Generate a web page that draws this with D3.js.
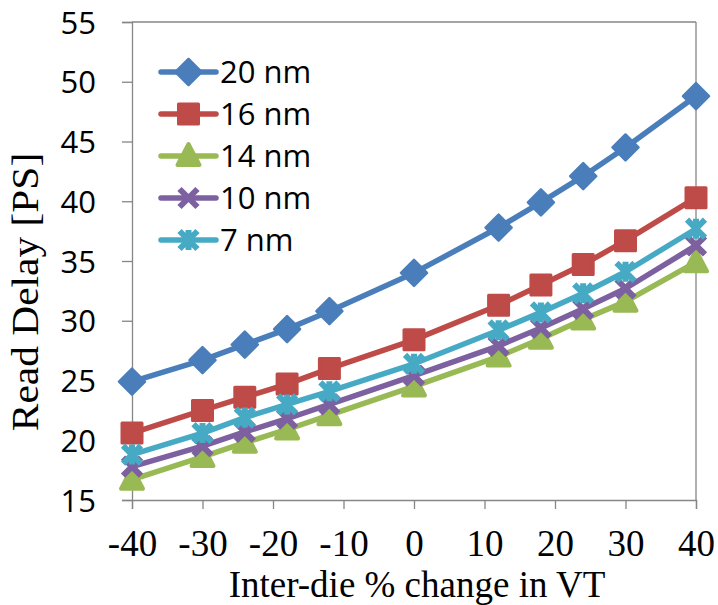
<!DOCTYPE html>
<html><head><meta charset="utf-8">
<script src="https://cdn.jsdelivr.net/npm/d3@7"></script>
<style>body{margin:0;background:#fff}svg{display:block}</style>
</head><body>
<svg id="c" width="718" height="605"></svg>
<script>
const xValues = [-40, -30, -24, -18, -12, 0, 12, 18, 24, 30, 40];
const seriesNames = ["20 nm", "16 nm", "14 nm", "10 nm", "7 nm"];
const s20 = [24.9, 26.7, 28.0, 29.3, 30.8, 34.0, 37.8, 39.9, 42.1, 44.5, 48.8];
const s16 = [20.6, 22.5, 23.6, 24.7, 26.0, 28.4, 31.3, 33.0, 34.7, 36.7, 40.3];
const s14 = [16.7, 18.6, 19.8, 20.9, 22.1, 24.5, 27.0, 28.5, 30.1, 31.6, 34.9];
const s10 = [17.8, 19.5, 20.7, 21.8, 23.0, 25.4, 27.9, 29.4, 31.0, 32.7, 36.3];
const s7  = [18.8, 20.6, 21.9, 23.0, 24.1, 26.4, 29.2, 30.7, 32.3, 34.1, 37.7];
const xTicks = [-40, -30, -20, -10, 0, 10, 20, 30, 40];
const yTicks = [15, 20, 25, 30, 35, 40, 45, 50, 55];
const colors = ["#4a7ebb", "#be4b48", "#98b954", "#7d60a0", "#46aac5"];
const shapes = ["diamond", "square", "triangle", "x", "star"];
const allSeries = [s20, s16, s14, s10, s7];

const svg = d3.select("#c");
const L = 132, R = 696, T = 22, B = 500;
const x = d3.scaleLinear().domain([-40, 40]).range([L, R]);
const y = d3.scaleLinear().domain([15, 55]).range([B, T]);
const axisColor = "#868686";
const serif = "'Liberation Serif', 'Times New Roman', serif";
const sans = "'Open Sans', sans-serif";

svg.append("line").attr("x1", L).attr("x2", R).attr("y1", T).attr("y2", T).attr("stroke", axisColor).attr("stroke-width", 1.3);
svg.append("line").attr("x1", R).attr("x2", R).attr("y1", T).attr("y2", B).attr("stroke", axisColor).attr("stroke-width", 1.3);

const yAxis = svg.append("g").attr("transform", `translate(${L},0)`)
  .call(d3.axisLeft(y).tickValues(yTicks).tickSize(10).tickPadding(26).tickFormat(d => String(d)));
const xAxis = svg.append("g").attr("transform", `translate(0,${B})`)
  .call(d3.axisBottom(x).tickValues(xTicks).tickSize(9).tickPadding(14).tickFormat(d => String(d)));
[yAxis, xAxis].forEach(g => {
  g.select(".domain").attr("stroke", axisColor).attr("stroke-width", 1.3);
  g.selectAll(".tick line").attr("stroke", axisColor).attr("stroke-width", 1.3);
});
yAxis.selectAll("text").attr("fill", "#000").style("font-family", sans).style("font-size", "31px").attr("dy", "0.36em");
xAxis.selectAll(".tick text")
  .attr("fill", "#000").style("font-family", serif).style("font-size", "37px")
  .attr("y", 56).attr("dy", 0);

svg.append("text").attr("text-anchor", "middle")
  .attr("x", (L + R) / 2 + 3).attr("y", 597)
  .style("font-family", serif).style("font-size", "37px").text("Inter-die % change in VT");
svg.append("text").attr("transform", "translate(38,292) scale(1,1.12) rotate(-90)").attr("text-anchor", "middle")
  .style("font-family", serif).style("font-size", "37px").text("Read Delay [PS]");

function drawMarker(g, shape, color, cx, cy) {
  if (shape === "diamond") {
    g.append("path").attr("d", `M${cx},${cy-13}L${cx+13},${cy}L${cx},${cy+13}L${cx-13},${cy}Z`)
      .attr("fill", color).attr("stroke", color).attr("stroke-width", 2.5).attr("stroke-linejoin", "round");
  } else if (shape === "square") {
    g.append("rect").attr("x", cx - 10).attr("y", cy - 10).attr("width", 20).attr("height", 20)
      .attr("fill", color).attr("stroke", color).attr("stroke-width", 3).attr("stroke-linejoin", "round");
  } else if (shape === "triangle") {
    g.append("path").attr("d", `M${cx},${cy-12}L${cx+11},${cy+9}L${cx-11},${cy+9}Z`)
      .attr("fill", color).attr("stroke", color).attr("stroke-width", 4).attr("stroke-linejoin", "round");
  } else if (shape === "x") {
    g.append("path").attr("d", `M${cx-9},${cy-9}L${cx+9},${cy+9}M${cx+9},${cy-9}L${cx-9},${cy+9}`)
      .attr("stroke", color).attr("stroke-width", 6);
  } else {
    g.append("path").attr("d", `M${cx-9},${cy-9}L${cx+9},${cy+9}M${cx+9},${cy-9}L${cx-9},${cy+9}M${cx},${cy-10}L${cx},${cy+10}`)
      .attr("stroke", color).attr("stroke-width", 6);
  }
}

const line = d3.line().x((d, i) => x(xValues[i])).y(d => y(d));
allSeries.forEach((s, k) => {
  const g = svg.append("g");
  g.append("path").attr("d", line(s)).attr("fill", "none").attr("stroke", colors[k])
    .attr("stroke-width", 5.5).attr("stroke-linejoin", "round").attr("stroke-linecap", "round");
  s.forEach((v, i) => drawMarker(g, shapes[k], colors[k], x(xValues[i]), y(v)));
});

const legY0 = 72, legDy = 42;
seriesNames.forEach((name, k) => {
  const g = svg.append("g");
  const yy = legY0 + k * legDy;
  g.append("line").attr("x1", 161).attr("x2", 216).attr("y1", yy).attr("y2", yy)
    .attr("stroke", colors[k]).attr("stroke-width", 5.5).attr("stroke-linecap", "round");
  drawMarker(g, shapes[k], colors[k], 188.5, yy);
  g.append("text").attr("x", 220).attr("y", yy).attr("dy", "0.36em")
    .style("font-family", sans).style("font-size", "31px").text(name);
});
</script>
</body></html>
